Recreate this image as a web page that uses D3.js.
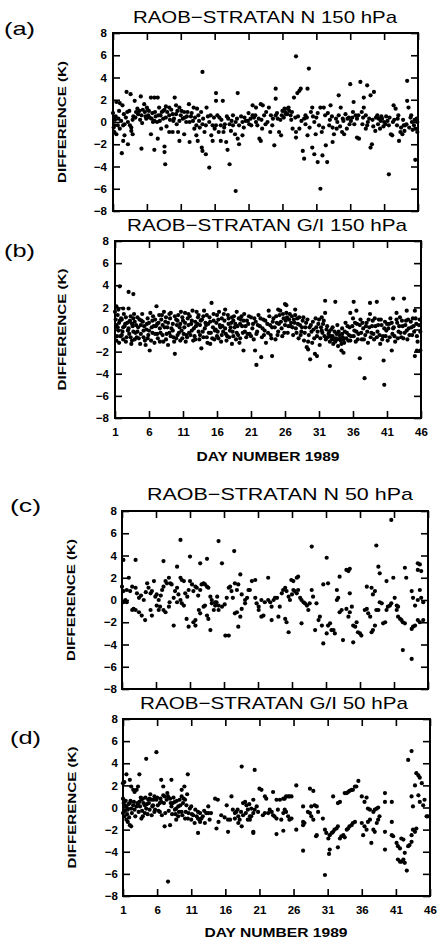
<!DOCTYPE html>
<html><head><meta charset="utf-8">
<script src="https://cdn.jsdelivr.net/npm/d3@7"></script>
<style>body{margin:0;background:#fff}</style>
</head><body>
<svg id="chart" width="439" height="943"></svg>
<script>
const dayTicks=[1,6,11,16,21,26,31,36,41,46];
const diffTicks=[-8,-6,-4,-2,0,2,4,6,8];
const titles=["RAOB\u2212STRATAN N 150 hPa","RAOB\u2212STRATAN G/I 150 hPa","RAOB\u2212STRATAN N 50 hPa","RAOB\u2212STRATAN G/I 50 hPa"];
const panelLabels=["(a)","(b)","(c)","(d)"];
const yAxisLabel="DIFFERENCE (K)";
const xAxisLabel="DAY NUMBER 1989";

const panelA=[
[1.5,1.8],[2.0,1.7],[2.4,1.5],[3.0,2.7],[3.6,2.5],[4.2,1.9],[5.1,2.3],[5.6,1.6],[6.0,1.3],[6.6,2.2],[7.1,2.2],[7.6,2.2],[7.8,1.3],[8.4,1.0],[8.8,1.4],[9.3,1.3],[10.1,2.2],[10.3,1.5],[10.8,1.3],[11.5,0.9],[12.2,1.6],[12.9,1.3],[13.4,1.2],[14.2,4.5],[14.8,1.3],[16.2,2.6],[16.2,1.9],[17.2,1.9],[18.7,0.6],[19.4,2.6],
[1.2,-0.3],[1.7,-0.3],[2.0,-0.6],[2.5,-0.3],[2.7,-0.2],[3.2,0],[3.7,-0.5],[4.4,0.9],[4.7,0.7],[5.2,0.6],[5.7,0.9],[6.2,0.6],[6.4,0.4],[6.9,0],[7.1,0.1],[7.5,0],[7.9,0.1],[8.4,0.3],[8.8,0.4],[9.3,0.6],[9.8,0.7],[10.3,0.7],[10.8,0.1],[11.3,0.3],[11.8,0],[12.3,0],[12.8,0.1],[13.3,-0.3],[13.8,-0.5],[14.2,-0.2],[14.7,-0.3],[15.2,0],[15.7,-0.3],[16.4,0.6],[16.9,-0.3],[17.4,-0.5],[18.2,-0.2],[18.7,-0.3],[19.1,0],[19.6,-0.3],[20.1,0],[20.6,0.1],
[1.2,-0.9],[1.5,-1.1],[2.5,-1.7],[2.7,-1.2],[3.2,-2.0],[3.7,-0.8],[3.9,-1.1],[6.6,-1.1],[7.6,-1.5],[8.1,-0.6],[9.3,-0.9],[9.8,-0.9],[10.6,-0.9],[10.8,-1.7],[11.5,-1.1],[12.3,-1.8],[13.3,-1.2],[13.5,-1.7],[14.1,-2.3],[14.2,-2.6],[14.7,-2.9],[15.2,-4.1],[15.5,-1.2],[15.7,-1.7],[16.2,-0.3],[16.9,-1.7],[17.7,-1.8],[17.9,-2.5],[18.2,-3.8],[19.1,-6.2],[19.4,-1.5],[19.6,-2.0],[20.1,-1.2],
[2.3,-2.8],[5.2,-2.4],[7.1,-2.5],[8.6,-2.2],[8.6,-2.7],[8.7,-3.8],
[1.0,0.8],[1.1,-0.5],[1.3,0.2],[1.8,0.3],[2.2,0.1],[2.9,0.4],[3.4,1.0],[4.0,0.5],[4.6,1.2],[5.0,0.2],[5.4,1.1],[5.9,0.3],[6.3,1.0],[6.8,0.8],[7.3,0.5],[8.0,0.6],[8.6,1.1],[9.0,0.9],[9.6,1.1],[10.0,0.3],[10.5,1.0],[11.0,0.6],[11.6,0.4],[12.0,0.9],[12.5,0.5],[13.0,-0.6],[13.6,0.6],[14.0,0.9],[14.5,-0.9],[15.0,0.5],[15.9,0.4],[16.6,-0.9],[17.0,0.2],[17.5,-0.2],[18.0,0.3],[18.4,-0.8],[19.0,-1.1],[19.9,0.5],[20.3,-0.5],
[1.4,0.5],[1.9,1.0],[2.6,0.7],[3.1,0.9],[3.5,-0.3],[3.9,0.2],[4.3,0.4],[4.9,1.0],[5.3,-0.1],[5.8,0.5],[6.1,1.1],[6.7,0.3],[7.2,0.9],[7.7,0.6],[8.2,0.9],[8.9,-0.4],[9.4,0.2],[9.9,0.1],[10.4,-0.2],[11.1,1.0],[11.9,0.5],[12.6,0.8],[13.1,0.4],[13.7,0.1],[14.3,0.3],[15.4,0.6],[16.0,-0.6],[16.7,0.4],[17.3,-0.9],[17.8,0.5],[18.5,0.1],[19.3,0.3],[20.4,0.4],
[20.9,0.1],[21.1,-0.2],[21.4,-0.3],[21.6,0.6],[21.8,0.4],[22.1,0],[22.3,-0.3],[22.6,-1.5],[22.8,-1.7],[21.6,1.5],[22.1,1.3],[22.8,1.6],[23.1,1.5],[23.3,0.6],[23.6,0.9],[23.8,0],[24.0,1.3],[24.3,0.6],[24.5,-0.3],[24.8,-2.1],[25.0,3.0],[25.0,2.1],[25.0,0.6],[25.3,0.3],[25.5,-0.9],[25.8,-1.2],[26.0,1.0],[26.3,1.2],[26.5,0.7],[26.7,0.7],[27.0,1.0],[27.2,0.6],[27.5,-0.6],[27.7,2.2],[28.0,-0.9],[28.0,-1.4],[28.0,5.9],[28.2,2.6],[28.5,2.8],[28.5,-0.6],[28.7,3.0],[29.0,-2.6],[29.2,-3.3],[29.2,0.3],[29.4,0.6],[29.4,-0.2],[29.7,-1.2],[29.7,3.0],[29.9,4.8],[30.2,0.9],[30.4,1.3],[30.7,0],[30.4,-2.3],[30.7,-2.9],[30.9,-1.1],[31.2,-3.6],[31.4,-0.3],[31.6,1.3],[31.6,-6.0],[31.9,-3.0],[32.1,1.3],[32.4,-2.1],[32.6,-3.6],[32.9,-0.3],[33.1,1.5],[33.4,-0.5],[33.4,-1.8],[33.6,-1.1],[33.9,0.3],[34.1,0],[34.3,0.6],[34.3,2.4],[34.6,1.3],[34.8,-0.9],[35.1,-1.1],[35.3,0.7],[35.6,0.3],[35.8,0.4],[36.0,3.4],[36.3,0.4],[36.5,1.8],[36.8,0.6],[37.0,-1.4],[37.3,-1.5],[37.5,3.6],[37.8,-0.2],[38.0,2.2],[38.0,1.3],[38.3,0.6],[38.3,-0.6],[38.5,3.3],[38.8,0.3],[39.0,2.4],[39.0,-2.3],[39.2,-2.0],[39.5,2.7],[39.7,-0.8],[40.0,0.6],[40.2,0.3],[40.5,0.1],[40.7,0.3],[41.0,0],[41.2,-0.2],[41.5,0.1],[41.7,-4.7],[41.7,-0.3],[42.0,-1.1],[42.2,-1.2],[42.4,1.5],[42.7,1.2],[42.9,-0.3],[43.2,-1.7],[43.4,-0.9],[43.7,-1.1],[43.9,-0.3],[44.1,-0.3],[44.4,3.7],[44.4,1.9],[44.6,1.3],[44.9,0.4],[45.1,0],[45.4,-0.3],[45.6,-0.6],[45.6,-3.4],[45.9,0],[45.9,-0.9],
[21.0,0.8],[22.5,0.3],[23.0,-0.6],[24.2,-0.9],[25.7,0.2],[26.2,0.4],[26.8,1.2],[27.3,0.2],[28.3,0.5],[28.8,0.1],[30.0,-0.5],[31.0,0.4],[31.8,-0.9],[32.3,0.6],[33.0,0.2],[34.5,-0.4],[35.0,0.1],[35.5,-0.6],[36.1,0.1],[36.6,-0.2],[37.2,0.6],[37.7,0.9],[38.5,-0.3],[39.3,0.2],[39.8,0.4],[40.4,-0.6],[40.9,-0.4],[41.3,0.5],[42.5,0.2],[43.0,0.3],[43.5,-0.5],[44.0,-0.8],[44.7,-0.5],[45.2,-0.7],[45.8,0.3],
[21.3,0.3],[22.0,0.6],[22.9,0.2],[23.5,-0.2],[24.6,0.3],[25.2,0.8],[25.9,0.6],[26.4,0.9],[26.9,1.3],[27.4,0.9],[27.9,0.4],[29.6,0.4],[30.5,0.5],[31.2,0.8],[32.0,-0.5],[32.7,0.8],[33.3,0.5],[34.0,-0.6],[34.9,0.3],[35.9,-0.2],[36.4,0.9],[37.0,0.3],[37.9,0.4],[38.6,0.0],[39.4,-0.4],[40.1,-0.2],[40.6,0.5],[41.8,0.4],[42.3,0.0],[43.1,0.6],[43.8,0.2],[44.3,-0.2],[45.0,0.6],[45.5,0.2]
];

const panelB=[
[1.2,2.1],[1.5,1.8],[1.7,3.9],[2.2,1.9],[3.0,3.4],[3.7,3.2],[3.0,1.9],[1.2,0.4],[1.5,-0.1],[1.7,0.8],[2.0,-0.5],[2.2,0.2],[2.5,0.5],[2.7,-0.7],[3.0,0.1],[3.2,0.8],[3.5,-1.0],[3.7,-0.2],[3.9,0.7],[4.2,-0.7],[4.4,0.2],[4.7,-1.3],[4.9,0.8],[5.2,-0.1],[5.4,-1.0],[5.7,0.5],[5.9,-0.5],[6.1,-1.9],[6.4,0.2],[6.6,1.2],[6.9,-0.4],[7.1,2.1],[7.2,0.5],[7.6,0.1],[7.9,1.3],[8.1,-1.1],[8.4,0.7],[8.6,-0.4],[8.8,-1.4],[9.1,1.0],[9.3,0.1],[9.6,-0.7],[9.8,-2.2],[10.1,0.4],[10.3,1.3],[10.6,-1.0],[10.8,-0.1],[11.0,0.8],[11.3,1.5],[11.5,-0.5],[11.8,0.4],[12.0,1.2],[12.3,-0.1],[12.5,-1.0],[12.8,0.7],[13.0,1.6],[13.3,-0.2],[13.5,0.4],[13.7,-1.7],[14.0,1.2],[14.2,0.1],[14.5,-0.7],[14.7,0.5],[15.0,-1.3],[15.2,2.4],[15.5,0.8],[15.7,-0.1],[16.0,1.3],[16.2,-0.8],[16.4,0.4],[16.7,1.0],[16.9,-0.2],[17.2,1.8],[17.4,-1.0],[17.7,0.5],[17.9,-0.1],[18.2,-1.3],[18.4,0.8],[18.6,0.2],[18.9,1.6],[19.1,-0.5],[19.4,0.5],[19.6,1.2],[19.9,-1.9],[20.1,-0.2],[20.4,0.8],
[1.1,0.9],[1.3,-0.6],[1.4,1.3],[1.6,-1.2],[1.9,1.0],[2.1,-0.2],[2.3,1.4],[2.6,-1.1],[2.8,0.6],[3.1,-0.4],[3.3,1.2],[3.4,-1.3],[3.6,0.3],[3.8,1.4],[4.0,-0.3],[4.3,1.1],[4.5,-0.8],[4.8,0.4],[5.0,1.4],[5.3,0.3],[5.5,-1.4],[5.8,1.0],[6.0,-0.1],[6.3,-1.0],[6.5,0.8],[6.8,-1.2],[7.0,0.3],[7.3,-0.8],[7.5,1.3],[7.7,-0.3],[8.0,0.4],[8.2,1.6],[8.5,-0.9],[8.7,0.2],[9.0,-0.3],[9.2,1.5],[9.5,0.5],[9.7,-1.1],[10.0,0.9],[10.2,-0.5],[10.5,0.2],[10.7,1.6],[10.9,-0.8],[11.2,0.2],[11.4,-1.1],[11.7,1.0],[11.9,-0.3],[12.2,0.5],[12.4,1.7],[12.7,-0.6],[12.9,0.3],[13.2,1.1],[13.4,-0.9],[13.6,0.8],[13.9,-0.2],[14.1,1.7],[14.4,0.4],[14.6,-1.2],[14.9,1.1],[15.1,-0.3],[15.4,0.2],[15.6,-0.9],[15.9,0.6],[16.1,-0.2],[16.3,1.6],[16.6,-1.1],[16.8,0.3],[17.1,0.8],[17.3,-0.4],[17.6,1.3],[17.8,-0.7],[18.1,0.6],[18.3,-0.2],[18.5,1.2],[18.8,-0.9],[19.0,0.3],[19.3,-1.2],[19.5,0.9],[19.8,-0.3],[20.0,1.4],[20.3,-0.7],
[1.0,1.6],[1.2,-1.0],[1.4,0.2],[1.6,0.6],[1.8,-0.6],[2.0,0.9],[2.2,-0.9],[2.4,0.3],[2.6,1.1],[2.9,-0.1],[3.1,0.7],[3.3,-0.7],[3.5,0.5],[3.7,1.0],[3.9,-0.9],[4.1,0.4],[4.3,-0.2],[4.6,0.9],[4.8,-0.4],[5.1,0.7],[5.2,-0.7],[5.6,0.0],[5.8,-0.8],[6.0,0.6],[6.2,1.5],[6.5,-0.3],[6.7,0.3],[6.9,0.9],[7.2,-0.4],[7.4,0.6],[7.6,-1.1],[7.8,0.9],[8.0,-0.5],[8.3,0.2],[8.5,1.1],[8.8,0.6],[9.0,1.4],[9.2,-0.6],[9.5,-0.1],[9.8,1.2],[10.0,-0.8],[10.2,0.8],[10.4,-0.3],[10.6,0.5],[10.9,1.1],[11.1,-0.4],[11.3,0.6],[11.6,-0.7],[11.8,1.4],[12.1,-0.5],[12.3,0.8],[12.6,0.1],[12.8,-0.9],[13.1,0.5],[13.3,1.3],[13.5,-0.5],[13.8,0.9],[14.0,-0.7],[14.3,0.6],[14.5,1.3],[14.8,-0.3],[15.0,0.7],[15.3,-0.8],[15.5,1.4],[15.8,0.0],[16.0,-0.6],[16.2,0.9],[16.5,0.2],[16.7,-0.5],[17.0,1.4],[17.2,0.1],[17.5,-0.6],[17.7,1.0],[18.0,0.2],[18.2,1.1],[18.4,-0.6],[18.7,0.5],[18.9,-0.3],[19.2,1.0],[19.4,-0.8],[19.7,0.3],[19.9,0.8],[20.2,0.3],[20.5,-0.4],
[26.0,2.3],[26.2,2.2],[25.0,1.8],[25.3,1.7],[27.5,1.8],[31.9,2.6],[33.4,2.5],[36.1,2.5],[38.5,2.4],[39.5,2.5],[41.9,2.8],[43.5,2.8],[21.6,-1.9],[22.5,-2.5],[21.8,-3.2],[24.1,-2.4],[29.2,-1.6],[29.4,-1.8],[29.7,-2.7],[30.4,-2.2],[30.7,-2.4],[32.6,-3.3],[34.3,-1.9],[34.6,-2.1],[37.0,-2.6],[37.7,-4.4],[40.5,-2.8],[40.6,-5.0],[41.7,-1.9],[45.1,-2.4],[45.4,-1.9],[45.9,-1.9],[23.6,1.7],[31.9,1.5],[31.4,1.1],[35.6,1.5],[36.5,1.7],[38.5,1.4],[42.4,1.5],[43.9,1.7],[45.1,1.7],
[20.6,0.5],[20.8,-0.4],[21.0,1.1],[21.2,0.1],[21.4,-0.9],[21.7,0.7],[21.9,-0.2],[22.1,1.3],[22.3,0.3],[22.6,-0.7],[22.8,0.9],[23.0,-0.1],[23.2,-1.2],[23.4,0.5],[23.7,1.2],[23.9,-0.5],[24.1,0.2],[24.3,1.0],[24.6,-0.9],[24.8,0.6],[25.0,-0.2],[25.2,1.3],[25.4,0.7],[25.6,-0.6],[25.8,1.0],[26.0,0.4],[26.2,1.5],[26.4,-0.3],[26.6,0.9],[26.8,0.3],[27.0,1.2],[27.2,-0.5],[27.4,0.6],[27.6,0.1],[27.8,1.0],[28.0,-0.8],[28.2,0.4],[28.4,-0.2],[28.6,0.8],[28.8,-1.0],[29.0,0.2],[29.3,0.9],[29.5,-0.5],[29.8,0.4],[30.0,-1.2],[30.2,0.0],[30.5,1.0],[30.7,-0.6],[30.9,0.5],[31.1,-1.4],[31.3,0.2],[31.5,-0.3],[31.7,0.8],[32.0,-0.9],[32.2,0.3],[32.4,-0.4],[32.6,-1.1],[32.8,0.0],[33.0,-0.6],[33.1,-1.3],[33.3,-0.2],[33.5,-0.8],[33.7,0.4],[33.8,-1.5],[34.0,-0.5],[34.2,-1.0],[34.4,0.1],[34.5,-0.7],[34.7,-1.2],[34.9,0.6],[35.1,-0.3],[35.3,-1.0],[35.5,0.2],[35.7,-0.6],[36.0,1.0],[36.2,-0.1],[36.4,-1.1],[36.6,0.5],[36.8,-0.4],[37.1,0.9],[37.3,-0.9],[37.5,0.1],[37.8,-0.5],[38.0,0.6],[38.2,-1.2],[38.4,0.2],[38.7,-0.3],[38.9,0.8],[39.1,-0.9],[39.3,0.3],[39.6,-0.2],[39.8,0.9],[40.0,-1.3],[40.2,0.4],[40.4,-0.6],[40.7,0.7],[40.9,-0.1],[41.1,-1.0],[41.3,0.5],[41.5,1.0],[41.8,-0.4],[42.0,0.2],[42.2,-1.1],[42.5,0.6],[42.7,-0.2],[42.9,1.1],[43.1,-0.7],[43.3,0.3],[43.6,-0.3],[43.8,0.8],[44.0,-0.9],[44.2,0.1],[44.5,0.7],[44.7,-0.5],[44.9,0.3],[45.2,1.0],[45.4,-0.6],[45.7,0.4],[45.9,-0.2],
[20.7,1.2],[21.0,-0.6],[21.3,0.5],[21.5,1.0],[21.8,-0.4],[22.0,0.4],[22.4,1.0],[22.7,0.1],[22.9,-0.5],[23.1,0.8],[23.5,-0.3],[23.8,0.4],[24.0,-0.8],[24.2,0.7],[24.5,0.2],[24.7,1.2],[24.9,-0.5],[25.1,0.5],[25.5,0.1],[25.7,1.4],[25.9,-0.3],[26.1,0.8],[26.3,1.1],[26.5,0.3],[26.7,1.4],[26.9,0.6],[27.1,0.2],[27.3,0.9],[27.5,1.3],[27.7,-0.3],[27.9,0.5],[28.1,1.1],[28.3,-0.5],[28.5,0.2],[28.7,1.1],[28.9,-0.3],[29.1,0.6],[29.4,-1.1],[29.6,0.2],[29.9,-0.2],[30.1,0.7],[30.3,-0.8],[30.6,0.2],[30.8,-0.2],[31.0,0.9],[31.2,-0.8],[31.4,-0.1],[31.6,0.5],[31.8,-0.6],[32.1,0.0],[32.3,-0.7],[32.5,-0.2],[32.7,-0.6],[32.9,-0.9],[33.0,0.2],[33.2,-0.9],[33.4,-1.1],[33.6,-0.4],[33.7,-0.9],[33.9,-0.2],[34.1,-0.8],[34.3,-1.3],[34.4,-0.4],[34.6,-0.9],[34.8,-0.2],[35.0,-0.8],[35.2,0.3],[35.4,-0.5],[35.6,-1.0],[35.9,0.3],[36.1,-0.6],[36.3,0.6],[36.5,-0.2],[36.7,-0.9],[37.0,0.4],[37.2,-0.3],[37.4,0.6],[37.6,-0.9],[37.9,0.3],[38.1,-0.2],[38.3,0.9],[38.6,-0.7],[38.8,0.3],[39.0,-0.4],[39.2,1.0],[39.5,-0.7],[39.7,0.4],[39.9,-0.5],[40.1,0.9],[40.3,-0.9],[40.6,0.1],[40.8,-0.6],[41.0,0.5],[41.2,0.1],[41.4,-0.7],[41.7,0.6],[41.9,0.1],[42.1,-0.6],[42.4,0.9],[42.6,-0.8],[42.8,0.3],[43.0,-0.3],[43.2,0.8],[43.4,-0.8],[43.7,0.4],[43.9,-0.1],[44.1,0.9],[44.3,-0.5],[44.6,0.2],[44.8,1.0],[45.0,-0.2],[45.3,0.5],[45.5,-1.1],[45.8,0.9]
];

const panelC=[
[1.2,3.6],[3.0,3.6],[9.6,5.4],[11.0,3.9],[12.5,3.3],[13.5,3.7],[15.2,5.3],[15.7,3.3],[17.5,4.4],[18.4,2.3],[7.1,3.5],[9.1,3.0],[2.0,2.0],
[1.0,1.2],[1.2,0.8],[1.7,0.9],[1.5,0],[1.2,-0.2],[1.7,-0.2],[2.2,0.8],[2.5,1.2],[3.0,1.1],[3.2,0.6],[3.5,0.2],[2.7,-0.8],[4.7,1.5],[4.9,1.1],[5.2,0.6],[5.4,0.8],[5.7,1.7],[5.9,0.3],[6.1,0.5],[6.4,0],[6.6,-0.6],[6.9,0.9],[7.1,1.2],[7.4,1.7],[7.6,1.5],[7.9,2.0],[8.1,1.5],[8.3,1.4],[8.8,0.8],[9.1,1.1],[8.6,0.2],[9.3,0.5],[9.6,0],[9.8,-0.3],[10.1,-0.5],[9.6,2.0],[9.8,1.8],[10.1,1.7],[10.3,0.6],[10.8,0.9],[11.0,1.7],[11.3,1.4],[11.5,0.8],[11.8,1.2],[12.0,1.1],[12.5,0.9],[12.7,1.4],[13.0,1.5],[13.2,1.4],[13.5,1.2],[13.7,1.1],[14.0,0.3],[14.2,0],[14.7,-0.2],[14.9,-0.2],[15.2,-0.5],[15.7,-0.6],[16.4,0.2],[16.7,1.1],[16.9,1.2],[17.1,0.8],[17.6,1.5],[17.9,0.9],[18.1,1.4],[18.6,0.5],[19.1,0],[19.4,0.2],[19.6,0.9],[19.8,0.9],[20.1,1.7],
[2.5,-0.9],[3.0,-0.9],[3.5,-1.1],[3.9,-1.4],[4.4,-1.8],[5.2,-0.9],[5.4,-1.4],[6.1,-0.5],[6.4,-0.9],[7.1,-0.9],[7.4,-1.1],[7.9,-0.6],[8.6,-2.3],[9.1,-0.2],[10.5,-1.7],[10.8,-2.4],[11.5,-2.0],[11.8,-1.8],[11.8,-2.3],[12.3,-0.9],[12.5,-1.2],[13.0,-0.6],[13.2,-0.5],[13.5,-1.4],[13.7,-1.7],[14.0,-2.7],[14.2,-0.3],[14.5,-0.9],[14.7,-0.5],[15.2,-0.9],[16.2,-3.2],[16.7,-3.2],[17.6,-1.2],[17.9,-1.1],[18.1,-2.4],[18.4,-1.5],[18.6,-0.8],[19.1,-0.3],
[3.8,0.4],[4.2,0.0],[4.5,0.7],[6.7,0.4],[8.0,-0.2],[10.6,0.3],[12.2,0.4],[15.0,0.3],[16.1,-0.4],[17.3,0.2],
[40.6,7.2],[28.9,4.8],[31.1,3.8],[38.4,4.9],[38.7,3.0],[38.9,2.4],[44.5,3.3],[44.8,3.2],[45.0,2.6],[44.5,2.7],[42.6,2.9],[34.0,2.7],[34.3,2.6],[34.5,2.8],[33.0,2.1],[30.6,1.4],[31.3,1.5],
[32.6,0.9],[32.8,0.2],[32.6,0],[34.5,0.6],[37.0,1.2],[37.7,1.1],[37.9,0.5],[38.2,0.8],[39.9,1.7],[40.9,2.0],[41.1,0.2],[41.4,-0.5],[41.6,-0.6],[42.8,2.0],[43.6,0.8],[43.8,0.2],[44.1,-0.5],[44.5,0],[44.8,0.9],[45.0,0.2],[45.3,-0.2],
[20.6,1.8],[22.5,2.0],[25.9,1.8],[26.2,1.7],[26.7,2.0],[26.9,2.1],
[20.6,0.2],[20.8,-0.3],[21.1,-0.6],[21.5,0],[22.0,-0.2],[22.5,0],[22.8,-0.2],[23.0,-0.6],[23.3,0],[23.5,0.2],[23.8,0.2],[24.2,-0.6],[24.5,0.6],[24.7,0.9],[25.0,1.1],[25.2,0.8],[25.5,0.3],[25.7,0],[26.0,0.5],[26.2,0.9],[26.4,0.8],[26.7,0.6],[26.9,0.9],[27.2,0.2],[27.4,0],[27.7,-0.2],[27.9,-0.3],[28.2,-0.5],[28.4,-0.9],[28.6,-0.3],[28.9,0.9],[29.1,0.3],[29.6,-0.3],[30.1,-1.5],[29.9,-1.8],
[21.1,-0.9],[21.5,-1.5],[21.8,-1.4],[23.0,-1.8],[24.0,-1.5],[25.0,-1.7],[25.2,-2.0],[25.5,-2.9],[27.4,-2.1],[29.4,-2.7],[30.4,-2.3],[30.6,-3.9],[31.1,-3.0],[31.3,-2.3],[31.6,-2.1],[31.8,-2.7],[32.1,-2.7],[32.3,-3.0],[33.0,-1.1],[33.3,-0.9],[33.5,-3.6],[34.0,-0.8],[34.3,-1.5],[34.5,-1.1],[34.8,-0.6],[35.0,-2.3],[35.3,-2.4],[35.5,-2.0],[35.7,-2.9],[36.0,-3.0],[36.2,-3.2],[35.0,-3.8],[36.7,-0.9],[37.0,-0.8],[37.2,-1.2],[37.5,-1.5],[37.7,-2.9],[37.9,-2.7],[38.2,-2.3],[38.4,-0.9],[38.7,-0.9],[38.9,-0.2],[39.2,-0.3],[39.4,-2.1],[39.7,-2.0],[39.9,-0.9],[40.1,-0.6],[40.4,-0.5],[40.6,-0.3],[41.4,-0.9],[41.6,-1.5],[41.9,-1.7],[42.1,-1.8],[42.3,-2.0],[42.6,-2.1],[42.3,-4.5],[43.6,-5.3],[43.6,-2.6],[43.8,-2.4],[44.1,-2.3],[44.5,-1.8],[44.8,-2.0],[45.3,-1.8]
];

const panelD=[
[1.5,3.0],[1.0,2.2],[1.2,2.3],[2.0,2.5],[2.2,1.9],[2.5,1.6],[2.7,1.4],[3.0,1.6],[3.2,1.9],[3.4,3.0],[4.4,4.4],[5.9,5.0],[6.6,2.5],[6.9,1.9],[8.1,2.5],[10.5,3.0],[10.0,1.9],[9.6,1.6],[18.4,3.7],[20.3,3.4],
[1.0,0.8],[1.2,0.2],[1.5,0.1],[1.7,-0.2],[2.0,0.4],[2.2,-0.1],[2.5,0.2],[2.7,-0.2],[3.0,0.1],[3.2,0.2],[3.4,0.5],[3.7,0.7],[3.9,0.8],[4.2,0.2],[4.4,-0.1],[4.7,0.7],[4.9,0.8],[5.2,0.7],[5.4,0.2],[5.6,1.0],[5.9,0.7],[6.1,0.2],[6.4,0.4],[6.6,0.5],[6.9,1.1],[7.1,1.0],[7.4,0.7],[7.6,1.0],[7.9,0.8],[8.1,0.1],[8.3,0.4],[8.6,0.5],[8.8,-0.1],[9.1,0.1],[9.3,0.7],[9.6,1.0],[9.8,0.4],[10.1,0.7],[10.3,0.2],[10.8,-0.1],[11.0,0.1],[11.3,-0.7],[11.8,-0.8],[12.0,-0.4],[12.3,-0.5],[12.5,-1.0],[12.7,-0.8],[13.2,-0.5],[13.5,0.1],[14.5,0.8],[14.9,0.7],[15.4,-0.7],[16.4,-1.1],[16.9,1.0],[17.4,-0.5],[17.6,-0.4],[17.9,-0.8],[18.1,-1.1],[18.6,0.4],[18.9,0.5],[19.1,0.2],[19.3,-0.2],[19.6,-0.8],[19.8,-0.1],[20.1,0.7],
[1.0,-0.5],[1.2,-0.8],[1.5,-1.1],[1.7,-1.3],[2.0,-1.6],[2.2,-1.7],[3.7,-1.0],[3.9,-0.8],[4.2,-0.5],[4.9,-0.2],[5.2,-0.7],[5.6,-0.4],[6.4,-0.4],[7.1,-1.7],[7.9,-1.6],[8.6,-0.2],[8.8,-1.1],[9.1,-0.8],[9.6,-0.4],[10.1,-1.0],[10.5,-1.0],[11.0,-1.1],[11.5,-1.4],[12.0,-1.0],[12.3,-1.3],[13.0,-1.4],[13.5,-0.5],[13.7,-1.1],[14.7,-1.9],[16.4,-2.2],[16.7,-1.1],[17.4,-1.0],[17.9,-1.4],[18.4,-1.7],[18.6,-0.7],[19.3,-1.1],[20.1,-2.2],
[7.6,-6.7],[12.0,-2.3],
[1.1,0.4],[1.3,-0.3],[1.4,0.6],[1.6,-0.6],[1.8,0.3],[1.9,-0.9],[2.1,0.6],[2.3,-0.5],[2.6,0.5],[2.8,-0.8],[3.1,0.4],[3.3,-0.4],[3.5,0.1],[3.6,0.9],[3.8,-0.3],[4.0,0.4],[4.3,0.9],[4.5,0.3],[4.6,-0.6],[4.8,0.4],[5.0,1.2],[5.3,0.1],[5.5,0.7],[5.7,-0.2],[6.0,0.9],[6.2,-0.3],[6.5,0.8],[6.7,-0.7],[7.0,0.4],[7.2,-0.5],[7.5,1.3],[7.7,-0.3],[8.0,0.4],[8.2,-0.6],[8.4,0.9],[8.7,-0.6],[8.9,0.6],[9.2,-0.4],[9.4,0.2],[9.7,-0.7],[9.9,0.8],[10.2,-0.4],[10.4,1.2],[10.6,-0.5],[11.1,-0.6],[11.6,-0.2],[12.2,-1.1],[12.9,-0.3],[13.9,-0.5],[15.0,-1.3],[15.9,-0.9],[16.2,0.2],[17.1,-0.2],[17.8,-0.2],[18.3,-0.4],[19.0,-0.5],[19.5,0.3],
[21.0,1.7],[21.3,1.6],[21.8,1.0],[22.0,0.8],[23.0,1.4],[23.5,0.7],[24.0,0.7],[24.5,0.8],[24.7,0.8],[24.9,1.0],[25.2,1.0],[25.4,1.0],[25.7,1.0],[26.4,2.0],[28.9,1.5],[27.4,0.1],[28.6,0.1],[29.4,0.1],[29.6,-0.4],[28.4,1.7],[31.8,1.0],[32.5,0.4],[32.8,0.5],[33.5,1.3],[33.8,1.3],[34.0,1.4],[34.2,1.5],[34.5,1.6],[34.7,1.6],[35.0,1.9],[35.5,2.4],[35.2,1.9],[36.0,1.0],[36.4,0.5],[36.7,0.9],[36.9,-0.1],[37.2,-0.2],[37.7,-0.4],[37.9,-0.2],[38.2,-0.1],[38.4,0],[39.4,1.3],[39.4,0.5],[40.4,0.5],[42.8,4.3],[43.3,5.1],[43.8,2.0],[44.0,3.1],[44.3,2.9],[44.5,2.7],[44.8,2.2],[43.3,1.0],[43.5,0.1],[44.3,1.1],[44.5,0.5],[45.0,0.2],[45.2,0.7],[45.5,-0.8],[45.7,-0.8],
[19.6,-1.1],[19.8,-0.8],[20.1,-0.5],[20.3,-0.2],[20.6,0.1],[20.8,-0.4],[21.5,-0.7],[21.8,-0.5],[22.3,-0.5],[22.5,-0.2],[22.8,-0.4],[23.0,-0.7],[23.2,-0.8],[23.5,-1.0],[23.7,-0.2],[24.2,-1.1],[24.5,-0.5],[24.7,-0.2],[24.9,-0.4],[25.2,-0.8],[25.4,-1.1],[25.7,-1.0],
[20.1,-2.3],[23.5,-2.4],[24.5,-2.1],[26.4,-2.0],[27.4,-1.3],[27.4,-1.6],[27.6,-1.4],[28.1,-0.4],[28.4,-0.5],[28.6,-0.8],[28.9,-1.1],[29.1,0.2],[29.4,-2.5],[29.3,-2.6],[30.3,-1.0],[30.6,-2.0],[30.8,-2.3],[31.1,-2.8],[31.3,-2.5],[31.6,-2.3],[31.8,-2.2],[32.0,-2.0],[32.3,-1.9],[32.5,-1.7],[32.8,-2.8],[33.0,-2.6],[33.3,-2.5],[33.5,-2.7],[33.8,-2.0],[34.0,-1.9],[34.2,-1.7],[34.5,-1.6],[34.7,-1.4],[35.0,-1.3],[27.4,-3.9],[31.3,-3.8],[31.2,-4.2],[32.5,-3.6],[30.6,-6.1],[36.0,-1.4],[36.2,-2.5],[36.4,-1.7],[36.7,-2.0],[36.9,-1.3],[37.2,-1.1],[37.4,-3.2],[37.7,-2.0],[37.9,-2.2],[38.2,-1.4],[38.4,-1.1],[38.6,-0.8],[39.4,-3.8],[39.4,-2.2],[40.4,-1.3],[40.4,-2.5],[40.6,-2.6],[41.1,-3.2],[41.3,-3.5],[41.6,-3.7],[41.8,-2.8],[42.1,-2.9],[42.3,-4.1],[41.3,-4.7],[41.6,-4.9],[41.8,-4.9],[42.1,-4.7],[42.3,-5.0],[42.6,-5.7],[42.8,-3.5],[43.0,-3.4],[43.3,-3.1],[43.5,-2.0],[43.8,-2.2],[44.0,-1.9],[43.3,-2.5]
];

const panelData=[panelA,panelB,panelC,panelD];

// layout (positions only)
const layout=[
 {left:113,right:418,top:33,bottom:211,tx:265,ty:17,tw:264,lx:4,ly:28,ylx:62,ypad:6,xlab:false},
 {left:115,right:421,top:241,bottom:418,tx:267,ty:225,tw:280,lx:4,ly:250,ylx:62,ypad:6,xlab:true,dx:268,dy:457},
 {left:122,right:428,top:511,bottom:689,tx:280,ty:494,tw:266,lx:10,ly:505,ylx:71,ypad:5,xlab:false},
 {left:123,right:430,top:719,bottom:896,tx:274,ty:703,tw:268,lx:10,ly:737,ylx:72,ypad:5,xlab:true,dx:276,dy:933}
];

const svg=d3.select("#chart");
const fmt=d=>d<0?"\u2212"+(-d):String(d);
const tickFont="'Liberation Sans', Arial, sans-serif";

layout.forEach((p,i)=>{
  const x=d3.scaleLinear().domain([1,46]).range([p.left,p.right]);
  const y=d3.scaleLinear().domain([-8,8]).range([p.bottom,p.top]);
  const g=svg.append("g");

  const styleAxis=sel=>{
    sel.select(".domain").remove();
    sel.selectAll("line").attr("stroke","#000").attr("stroke-width",1.6);
    sel.selectAll("text").attr("font-family",tickFont).attr("font-weight","bold").attr("font-size",11.5).attr("fill","#000");
  };
  g.append("g").attr("transform",`translate(${p.left},0)`)
    .call(d3.axisLeft(y).tickValues(diffTicks).tickSize(-7).tickPadding(p.ypad).tickFormat(fmt)).call(styleAxis);
  g.append("g").attr("transform",`translate(${p.right},0)`)
    .call(d3.axisRight(y).tickValues(diffTicks).tickSize(-7).tickFormat("")).call(styleAxis);
  g.append("g").attr("transform",`translate(0,${p.top})`)
    .call(d3.axisTop(x).tickValues(dayTicks).tickSize(-7).tickFormat("")).call(styleAxis);
  g.append("g").attr("transform",`translate(0,${p.bottom})`)
    .call(d3.axisBottom(x).tickValues(dayTicks).tickSize(-7).tickPadding(10).tickFormat(p.xlab?(d=>String(d)):"")).call(styleAxis);

  g.append("rect").attr("x",p.left).attr("y",p.top)
    .attr("width",p.right-p.left).attr("height",p.bottom-p.top)
    .attr("fill","none").attr("stroke","#000").attr("stroke-width",2);

  g.append("g").selectAll("circle").data(panelData[i]).join("circle")
    .attr("cx",d=>x(d[0])).attr("cy",d=>y(d[1])).attr("r",2.1).attr("fill","#000");

  g.append("text").attr("x",p.tx).attr("y",p.ty).attr("text-anchor","middle").attr("dominant-baseline","central")
    .attr("font-family",tickFont).attr("font-size",17).attr("textLength",p.tw).attr("lengthAdjust","spacingAndGlyphs")
    .text(titles[i]);
  g.append("text").attr("x",p.lx).attr("y",p.ly).attr("dominant-baseline","central")
    .attr("font-family",tickFont).attr("font-size",19).attr("textLength",31).attr("lengthAdjust","spacingAndGlyphs")
    .text(panelLabels[i]);
  const cy=(p.top+p.bottom)/2;
  g.append("text").attr("transform",`translate(${p.ylx},${cy}) rotate(-90)`)
    .attr("text-anchor","middle").attr("dominant-baseline","central")
    .attr("font-family",tickFont).attr("font-weight","bold").attr("font-size",11)
    .attr("textLength",122).attr("lengthAdjust","spacingAndGlyphs").text(yAxisLabel);
  if(p.xlab){
    g.append("text").attr("x",p.dx).attr("y",p.dy).attr("text-anchor","middle").attr("dominant-baseline","central")
      .attr("font-family",tickFont).attr("font-weight","bold").attr("font-size",12)
      .attr("textLength",143).attr("lengthAdjust","spacingAndGlyphs").text(xAxisLabel);
  }
});
</script>
</body></html>
